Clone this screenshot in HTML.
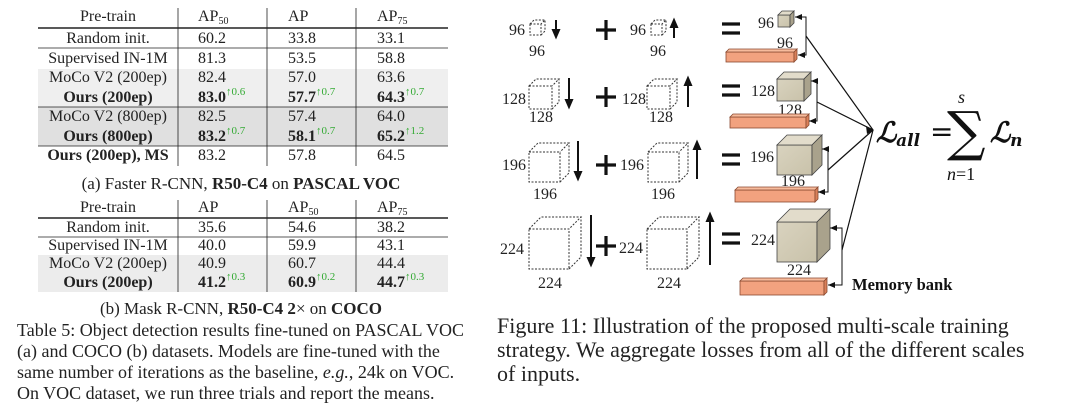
<!DOCTYPE html>
<html><head><meta charset="utf-8"><style>
html,body{margin:0;padding:0;background:#fff;}
svg{display:block;font-family:"Liberation Serif",serif;}
</style></head><body>
<svg width="1080" height="409" viewBox="0 0 1080 409" xmlns="http://www.w3.org/2000/svg">
<defs>
<marker id="ah" markerWidth="8" markerHeight="8" refX="7" refY="4" orient="auto" markerUnits="userSpaceOnUse"><path d="M0,1 L7,4 L0,7 z" fill="#111"/></marker>
<linearGradient id="cb" x1="0" y1="0" x2="1" y2="1"><stop offset="0" stop-color="#d9d3bf"/><stop offset="1" stop-color="#c9c2aa"/></linearGradient>
</defs>
<rect x="38" y="69" width="410" height="38" fill="#efefef"/>
<rect x="38" y="107" width="410" height="39" fill="#e0e0e0"/>
<g stroke="#222" fill="none">
<line x1="38" y1="28" x2="448" y2="28" stroke-width="1.6"/>
<line x1="38" y1="48" x2="448" y2="48" stroke-width="0.8"/>
<line x1="38" y1="107" x2="448" y2="107" stroke-width="0.8"/>
<line x1="38" y1="146" x2="448" y2="146" stroke-width="0.8"/>
<line x1="178" y1="8" x2="178" y2="166" stroke-width="0.8"/>
<line x1="267" y1="8" x2="267" y2="166" stroke-width="0.8"/>
<line x1="356" y1="8" x2="356" y2="166" stroke-width="0.8"/>
</g>
<g font-size="16" fill="#222">
<text x="108" y="21" text-anchor="middle">Pre-train</text>
<text x="198" y="21">AP<tspan font-size="10" dy="3">50</tspan></text>
<text x="288" y="21">AP</text>
<text x="377" y="21">AP<tspan font-size="10" dy="3">75</tspan></text>
<text x="108" y="43" text-anchor="middle">Random init.</text>
<text x="198" y="43">60.2</text><text x="288" y="43">33.8</text><text x="377" y="43">33.1</text>
<text x="108" y="63" text-anchor="middle">Supervised IN-1M</text>
<text x="198" y="63">81.3</text><text x="288" y="63">53.5</text><text x="377" y="63">58.8</text>
<text x="108" y="82" text-anchor="middle">MoCo V2 (200ep)</text>
<text x="198" y="82">82.4</text><text x="288" y="82">57.0</text><text x="377" y="82">63.6</text>
<text x="108" y="102" text-anchor="middle" font-weight="bold">Ours (200ep)</text>
<text x="198" y="102" font-weight="bold">83.0<tspan font-size="11" dy="-7" fill="#3a3" font-weight="normal">↑0.6</tspan></text>
<text x="288" y="102" font-weight="bold">57.7<tspan font-size="11" dy="-7" fill="#3a3" font-weight="normal">↑0.7</tspan></text>
<text x="377" y="102" font-weight="bold">64.3<tspan font-size="11" dy="-7" fill="#3a3" font-weight="normal">↑0.7</tspan></text>
<text x="108" y="121" text-anchor="middle">MoCo V2 (800ep)</text>
<text x="198" y="121">82.5</text><text x="288" y="121">57.4</text><text x="377" y="121">64.0</text>
<text x="108" y="141" text-anchor="middle" font-weight="bold">Ours (800ep)</text>
<text x="198" y="141" font-weight="bold">83.2<tspan font-size="11" dy="-7" fill="#3a3" font-weight="normal">↑0.7</tspan></text>
<text x="288" y="141" font-weight="bold">58.1<tspan font-size="11" dy="-7" fill="#3a3" font-weight="normal">↑0.7</tspan></text>
<text x="377" y="141" font-weight="bold">65.2<tspan font-size="11" dy="-7" fill="#3a3" font-weight="normal">↑1.2</tspan></text>
<text x="108" y="160" text-anchor="middle" font-weight="bold">Ours (200ep), MS</text>
<text x="198" y="160">83.2</text><text x="288" y="160">57.8</text><text x="377" y="160">64.5</text>
<text x="241" y="189" text-anchor="middle" font-size="17">(a) Faster R-CNN, <tspan font-weight="bold">R50-C4</tspan> on <tspan font-weight="bold">PASCAL VOC</tspan></text>
</g>
<rect x="38" y="255" width="410" height="37" fill="#ececec"/>
<g stroke="#222" fill="none">
<line x1="38" y1="218" x2="448" y2="218" stroke-width="1.6"/>
<line x1="38" y1="237" x2="448" y2="237" stroke-width="0.8"/>
<line x1="178" y1="200" x2="178" y2="292" stroke-width="0.8"/>
<line x1="267" y1="200" x2="267" y2="292" stroke-width="0.8"/>
<line x1="356" y1="200" x2="356" y2="292" stroke-width="0.8"/>
</g>
<g font-size="16" fill="#222">
<text x="108" y="212" text-anchor="middle">Pre-train</text>
<text x="198" y="212">AP</text>
<text x="288" y="212">AP<tspan font-size="10" dy="3">50</tspan></text>
<text x="377" y="212">AP<tspan font-size="10" dy="3">75</tspan></text>
<text x="108" y="232" text-anchor="middle">Random init.</text>
<text x="198" y="232">35.6</text><text x="288" y="232">54.6</text><text x="377" y="232">38.2</text>
<text x="108" y="250" text-anchor="middle">Supervised IN-1M</text>
<text x="198" y="250">40.0</text><text x="288" y="250">59.9</text><text x="377" y="250">43.1</text>
<text x="108" y="268" text-anchor="middle">MoCo V2 (200ep)</text>
<text x="198" y="268">40.9</text><text x="288" y="268">60.7</text><text x="377" y="268">44.4</text>
<text x="108" y="287" text-anchor="middle" font-weight="bold">Ours (200ep)</text>
<text x="198" y="287" font-weight="bold">41.2<tspan font-size="11" dy="-7" fill="#3a3" font-weight="normal">↑0.3</tspan></text>
<text x="288" y="287" font-weight="bold">60.9<tspan font-size="11" dy="-7" fill="#3a3" font-weight="normal">↑0.2</tspan></text>
<text x="377" y="287" font-weight="bold">44.7<tspan font-size="11" dy="-7" fill="#3a3" font-weight="normal">↑0.3</tspan></text>
<text x="241" y="314" text-anchor="middle" font-size="17">(b) Mask R-CNN, <tspan font-weight="bold">R50-C4 2</tspan>× on <tspan font-weight="bold">COCO</tspan></text>
</g>
<g font-size="18" fill="#222">
<text x="17" y="336">Table 5: Object detection results fine-tuned on PASCAL VOC</text>
<text x="17" y="357">(a) and COCO (b) datasets. Models are fine-tuned with the</text>
<text x="17" y="378">same number of iterations as the baseline, <tspan font-style="italic">e.g.</tspan>, 24k on VOC.</text>
<text x="17" y="399">On VOC dataset, we run three trials and report the means.</text>
</g>
<g font-size="22" fill="#222">
<text x="497" y="333">Figure 11: Illustration of the proposed multi-scale training</text>
<text x="497" y="357">strategy. We aggregate losses from all of the different scales</text>
<text x="497" y="381">of inputs.</text>
</g>
<g stroke="#333" stroke-width="1" fill="none" stroke-dasharray="2,1.5">
<path d="M530,24 h11 v11 h-11 z M530,24 l4,-4 h11 l-4,4 M541,35 l4,-4 v-11"/>
<path d="M651,24 h11 v11 h-11 z M651,24 l4,-4 h11 l-4,4 M662,35 l4,-4 v-11"/>
<path d="M529,86 h23 v23 h-23 z M529,86 l7,-7 h23 l-7,7 M552,109 l7,-7 v-23"/>
<path d="M647,86 h23 v23 h-23 z M647,86 l7,-7 h23 l-7,7 M670,109 l7,-7 v-23"/>
<path d="M529,152 h31 v30 h-31 z M529,152 l9,-9 h31 l-9,9 M560,182 l9,-9 v-30"/>
<path d="M648,152 h31 v30 h-31 z M648,152 l9,-9 h31 l-9,9 M679,182 l9,-9 v-30"/>
<path d="M529,229 h40 v40 h-40 z M529,229 l12,-12 h40 l-12,12 M569,269 l12,-12 v-40"/>
<path d="M647,229 h40 v40 h-40 z M647,229 l12,-12 h40 l-12,12 M687,269 l12,-12 v-40"/>
</g>
<g font-size="16" fill="#222" text-anchor="middle">
<text x="517" y="35">96</text><text x="537" y="56">96</text>
<text x="638" y="35">96</text><text x="658" y="56">96</text>
<text x="514" y="104">128</text><text x="541" y="122">128</text>
<text x="634" y="104">128</text><text x="661" y="122">128</text>
<text x="514" y="170">196</text><text x="545" y="199">196</text>
<text x="632" y="170">196</text><text x="663" y="199">196</text>
<text x="512" y="254">224</text><text x="550" y="288">224</text>
<text x="631" y="253">224</text><text x="669" y="288">224</text>
<text x="766" y="28">96</text><text x="785" y="48">96</text>
<text x="763" y="96">128</text><text x="790" y="115">128</text>
<text x="762" y="162">196</text><text x="793" y="186">196</text>
<text x="763" y="245">224</text><text x="799" y="275">224</text>
</g>
<g stroke="#111" stroke-width="2" fill="#111">
<line x1="556" y1="20" x2="556" y2="31"/><path d="M553,30 L556,37 L559,30 z"/>
<line x1="674" y1="38" x2="674" y2="26"/><path d="M671,27 L674,20 L677,27 z"/>
<line x1="569" y1="78" x2="569" y2="101"/><path d="M566,100 L569,107 L572,100 z"/>
<line x1="688" y1="107" x2="688" y2="84"/><path d="M685,85 L688,78 L691,85 z"/>
<line x1="578" y1="141" x2="578" y2="173"/><path d="M575,172 L578,179 L581,172 z"/>
<line x1="697" y1="179" x2="697" y2="148"/><path d="M694,149 L697,142 L700,149 z"/>
<line x1="591" y1="215" x2="591" y2="259"/><path d="M588,258 L591,265 L594,258 z"/>
<line x1="710" y1="265" x2="710" y2="220"/><path d="M707,221 L710,214 L713,221 z"/>
</g>
<g stroke="#111" stroke-width="3.2">
<path d="M596,30 h20 M606,20 v20"/><path d="M596,97 h20 M606,87 v20"/><path d="M596,165 h20 M606,155 v20"/><path d="M596,246 h20 M606,236 v20"/>
<path d="M722,24 h18 M722,33 h18"/><path d="M722,86 h18 M722,95 h18"/><path d="M722,155 h18 M722,164 h18"/><path d="M722,234 h18 M722,243 h18"/>
</g>
<g stroke="#444" stroke-width="0.8">
<rect x="778" y="15" width="12" height="12" fill="url(#cb)"/>
<path d="M778,15 l4,-4 h12 l-4,4 z" fill="#e2dccb"/><path d="M790,15 l4,-4 v12 l-4,4 z" fill="#a9a28c"/>
<rect x="777" y="79" width="27" height="22" fill="url(#cb)"/>
<path d="M777,79 l7,-7 h27 l-7,7 z" fill="#e2dccb"/><path d="M804,79 l7,-7 v22 l-7,7 z" fill="#a9a28c"/>
<rect x="777" y="145" width="35" height="30" fill="url(#cb)"/>
<path d="M777,145 l10,-10 h35 l-10,10 z" fill="#e2dccb"/><path d="M812,145 l10,-10 v30 l-10,10 z" fill="#a9a28c"/>
<rect x="777" y="222" width="40" height="40" fill="url(#cb)"/>
<path d="M777,222 l13,-13 h40 l-13,13 z" fill="#e2dccb"/><path d="M817,222 l13,-13 v40 l-13,13 z" fill="#a9a28c"/>
</g>
<g stroke="#8a4a30" stroke-width="0.8">
<rect x="726" y="52" width="68" height="10" fill="#f2a27f"/><path d="M794,52 l3,-3 v10 l-3,3 z" fill="#d9805a"/><path d="M726,52 l3,-3 h68 l-3,3z" fill="#f7bb9c"/>
<rect x="730" y="117" width="76" height="11" fill="#f2a27f"/><path d="M806,117 l3,-3 v11 l-3,3 z" fill="#d9805a"/><path d="M730,117 l3,-3 h76 l-3,3z" fill="#f7bb9c"/>
<rect x="735" y="190" width="80" height="12" fill="#f2a27f"/><path d="M815,190 l3,-3 v12 l-3,3 z" fill="#d9805a"/><path d="M735,190 l3,-3 h80 l-3,3z" fill="#f7bb9c"/>
<rect x="740" y="281" width="84" height="14" fill="#f2a27f"/><path d="M824,281 l3,-3 v14 l-3,3 z" fill="#d9805a"/><path d="M740,281 l3,-3 h84 l-3,3z" fill="#f7bb9c"/>
</g>
<g stroke="#111" stroke-width="1" fill="none" marker-end="url(#ah)">
<path d="M806,36 V17 H795"/><path d="M806,36 V55 H798"/>
<path d="M817,102 V81 H811"/><path d="M817,102 V121 H809"/>
<path d="M828,170 V149 H822"/><path d="M828,170 V192 H818"/>
<path d="M842,250 V228 H830"/><path d="M842,250 V285 H828"/>
</g>
<g stroke="#111" stroke-width="1.2" fill="none">
<line x1="806" y1="36" x2="873" y2="130"/>
<line x1="817" y1="102" x2="873" y2="130"/>
<line x1="828" y1="170" x2="873" y2="130"/>
<line x1="842" y1="250" x2="873" y2="130"/>
</g>
<path d="M866,126 L874,130 L867,134 z" fill="#111"/>
<text x="852" y="290" font-size="16.5" font-weight="bold" fill="#111">Memory bank</text>
<g fill="#111">
<text x="876" y="142" font-size="28" font-style="italic" font-family="'DejaVu Serif',serif" font-weight="bold">ℒ<tspan font-size="17" dy="4">all</tspan></text>
<text x="930" y="141" font-size="28" font-family="'DejaVu Serif',serif">=</text>
<text x="947" y="150" font-size="54" font-family="'DejaVu Serif',serif">∑</text>
<text x="958" y="103" font-size="18" font-style="italic">s</text>
<text x="947" y="180" font-size="18"><tspan font-style="italic">n</tspan>=1</text>
<text x="990" y="142" font-size="28" font-style="italic" font-family="'DejaVu Serif',serif" font-weight="bold">ℒ<tspan font-size="17" dy="4">n</tspan></text>
</g>
</svg>
</body></html>
